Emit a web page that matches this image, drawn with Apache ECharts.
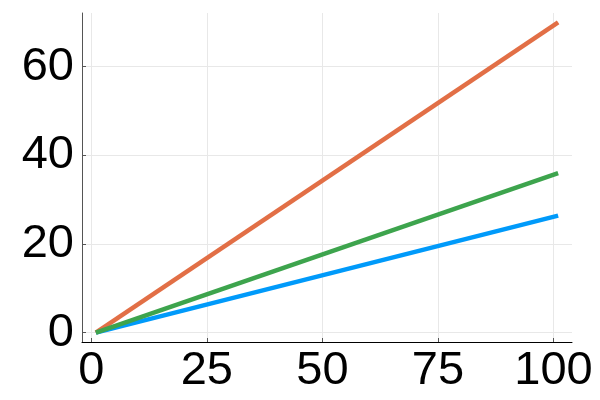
<!DOCTYPE html>
<html>
<head>
<meta charset="utf-8">
<script src="https://cdn.jsdelivr.net/npm/echarts@6/dist/echarts.min.js"></script>
<style>
  html, body { margin: 0; padding: 0; background: #fff; }
  #chart { width: 600px; height: 400px; }
</style>
</head>
<body>
<div id="chart"></div>
<script>
// 数据（直线，只取两端点）
const xValues = [1, 101]
const blueValues = [0, 26.4]
const orangeValues = [0, 70]
const greenValues = [0, 36]
const xTicks = [0, 25, 50, 75, 100]
const yTicks = [0, 20, 40, 60]

const lineColor = ['#009AFA', '#E26F46', '#3DA44D']
const seriesValues = [blueValues, orangeValues, greenValues]

const chart = echarts.init(document.getElementById('chart'))
const seriesData = []
for (let i = 0; i < seriesValues.length; i++) {
  seriesData.push({
    type: 'line',
    data: xValues.map((x, j) => [x, seriesValues[i][j]]),
    symbol: 'none',
    silent: true,
    lineStyle: {
      color: lineColor[i],
      width: 4.5
    }
  })
}

const labelStyle = {
  fontFamily: 'Liberation Sans',
  fontSize: 47,
  color: '#000'
}

const option = {
  animation: false,
  grid: {
    left: 82,
    right: 28,
    top: 13,
    bottom: 58
  },
  xAxis: {
    type: 'value',
    min: -2,
    max: 104,
    axisLine: { show: true, onZero: false, lineStyle: { color: '#000', width: 1 } },
    axisTick: { show: true, inside: true, length: 4, customValues: xTicks, lineStyle: { color: '#555' } },
    axisLabel: { ...labelStyle, margin: 6, customValues: xTicks },
    splitLine: { show: true, lineStyle: { color: '#e8e8e8', width: 1 } }
  },
  yAxis: {
    type: 'value',
    min: -2.1,
    max: 72.1,
    axisLine: { show: true, onZero: false, lineStyle: { color: '#555', width: 1 } },
    axisTick: { show: true, inside: true, length: 4, customValues: yTicks, lineStyle: { color: '#555' } },
    axisLabel: { ...labelStyle, margin: 8, customValues: yTicks },
    splitLine: { show: true, lineStyle: { color: '#e8e8e8', width: 1 } }
  },
  series: seriesData
}

chart.setOption(option)
</script>
</body>
</html>
